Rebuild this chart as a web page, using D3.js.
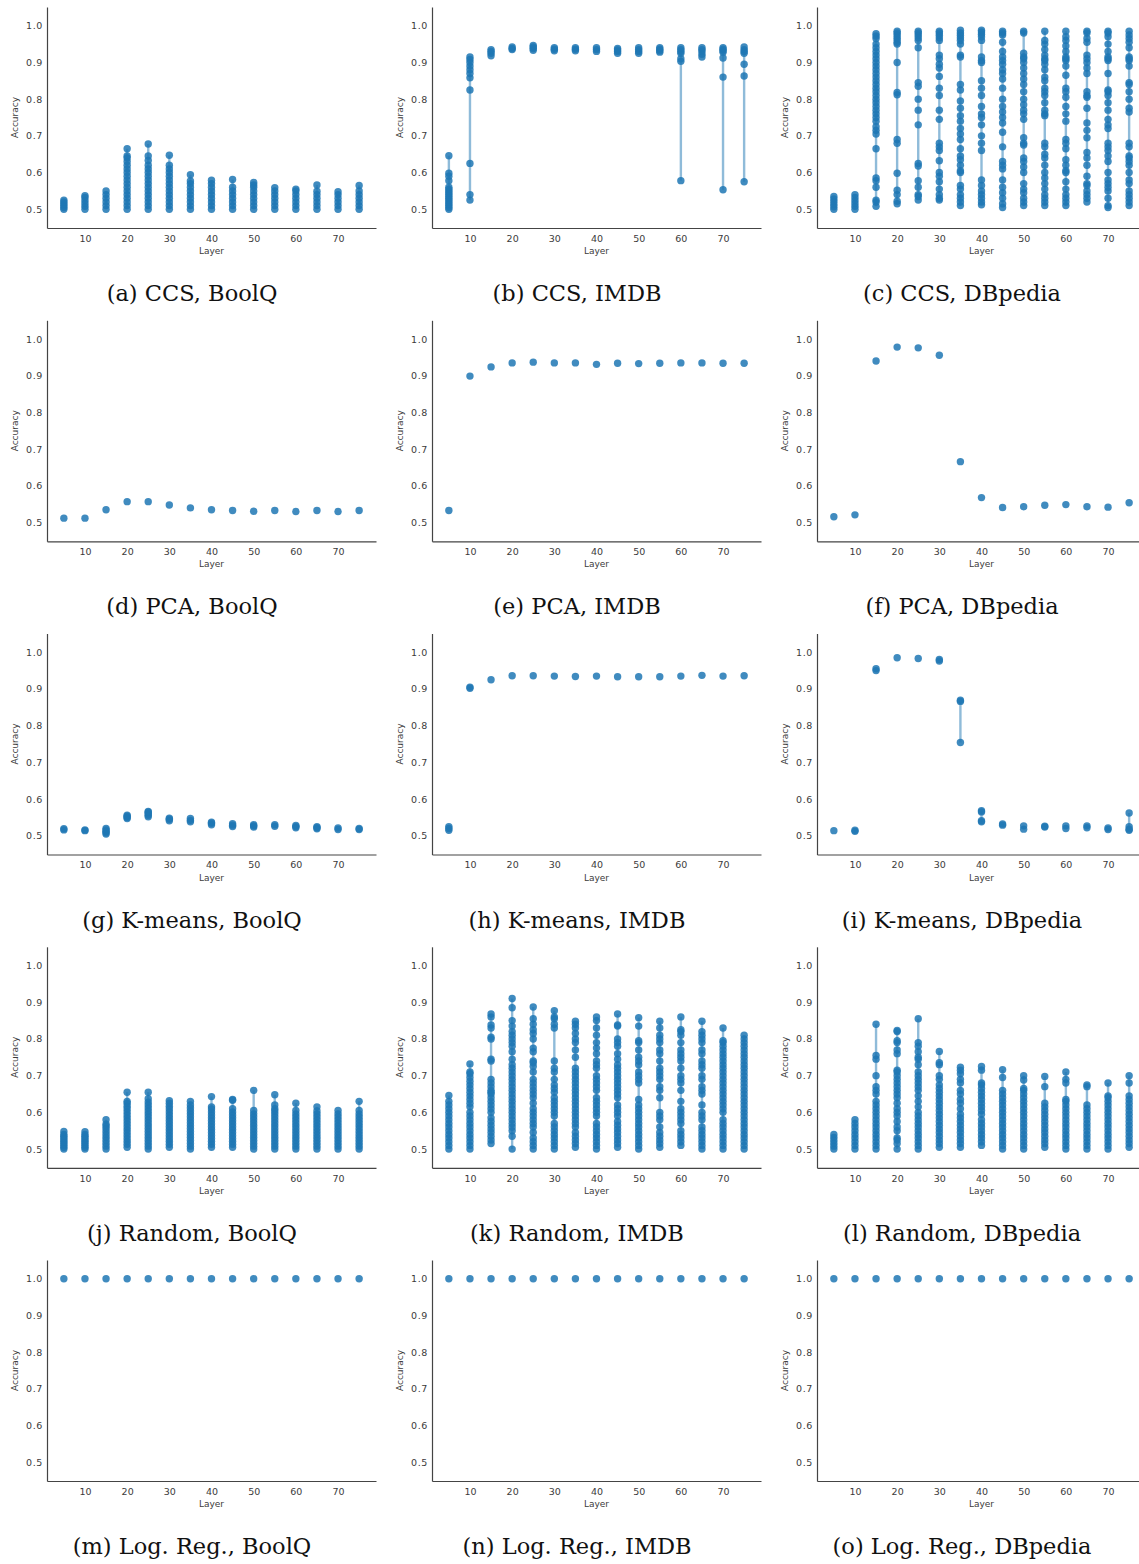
<!DOCTYPE html>
<html><head><meta charset="utf-8">
<script src="https://cdn.jsdelivr.net/npm/d3@7"></script>
<style>
html,body{margin:0;padding:0;background:#fff;}
svg{display:block;}
</style>
</head><body>
<svg id="chart" width="1139" height="1564"></svg>
<script>
// ---------------- DATA ----------------
const layers = [5,10,15,20,25,30,35,40,45,50,55,60,65,70,75];
const xTicks = [10,20,30,40,50,60,70];
const yTicks = [0.5,0.6,0.7,0.8,0.9,1.0];
const xLabel = "Layer";
const yLabel = "Accuracy";
const captions = [
  "(a) CCS, BoolQ","(b) CCS, IMDB","(c) CCS, DBpedia",
  "(d) PCA, BoolQ","(e) PCA, IMDB","(f) PCA, DBpedia",
  "(g) K-means, BoolQ","(h) K-means, IMDB","(i) K-means, DBpedia",
  "(j) Random, BoolQ","(k) Random, IMDB","(l) Random, DBpedia",
  "(m) Log. Reg., BoolQ","(n) Log. Reg., IMDB","(o) Log. Reg., DBpedia"
];

// accuracy values per layer (one array per layer)
const ccsBoolq = [
  [0.500,0.505,0.510,0.515,0.520,0.525],
  [0.500,0.508,0.516,0.524,0.532,0.537],
  [0.500,0.510,0.520,0.530,0.540,0.550],
  [0.500,0.510,0.520,0.530,0.540,0.550,0.560,0.570,0.580,0.590,0.600,0.610,0.620,0.630,0.640,0.645,0.665],
  [0.500,0.510,0.520,0.530,0.540,0.550,0.560,0.570,0.580,0.590,0.600,0.610,0.620,0.633,0.645,0.678],
  [0.500,0.510,0.520,0.530,0.540,0.550,0.560,0.570,0.580,0.590,0.600,0.610,0.620,0.647],
  [0.500,0.510,0.520,0.530,0.540,0.550,0.560,0.570,0.577,0.594],
  [0.500,0.510,0.520,0.530,0.540,0.550,0.560,0.570,0.579],
  [0.500,0.510,0.520,0.530,0.540,0.550,0.560,0.581],
  [0.500,0.510,0.520,0.530,0.540,0.550,0.560,0.566,0.573],
  [0.500,0.510,0.520,0.530,0.540,0.550,0.559],
  [0.500,0.510,0.520,0.530,0.540,0.550,0.555],
  [0.500,0.510,0.520,0.530,0.540,0.549,0.566],
  [0.500,0.510,0.520,0.530,0.540,0.548],
  [0.500,0.510,0.520,0.530,0.540,0.550,0.565]
];
const ccsImdb = [
  [0.500,0.505,0.510,0.515,0.520,0.525,0.530,0.535,0.540,0.545,0.550,0.555,0.560,0.578,0.590,0.598,0.646],
  [0.525,0.540,0.625,0.825,0.858,0.870,0.880,0.890,0.900,0.908,0.915],
  [0.918,0.925,0.930,0.935],
  [0.935,0.938,0.942],
  [0.933,0.938,0.942,0.946],
  [0.932,0.936,0.940],
  [0.932,0.936,0.940],
  [0.930,0.935,0.940],
  [0.925,0.930,0.934,0.938],
  [0.925,0.930,0.935,0.940],
  [0.928,0.932,0.936,0.940],
  [0.578,0.903,0.910,0.925,0.930,0.935,0.940],
  [0.915,0.922,0.930,0.935,0.940],
  [0.553,0.860,0.912,0.928,0.932,0.936,0.940],
  [0.575,0.863,0.895,0.925,0.930,0.935,0.942]
];
const ccsDbpedia = [
  [0.500,0.507,0.514,0.521,0.528,0.535],
  [0.500,0.508,0.516,0.524,0.532,0.540],
  [0.508,0.520,0.525,0.560,0.578,0.585,0.665,0.705,0.715,0.725,0.740,0.750,0.760,0.770,0.780,0.790,0.800,0.810,0.820,0.830,0.840,0.850,0.860,0.870,0.880,0.890,0.900,0.910,0.920,0.930,0.940,0.950,0.965,0.972,0.978],
  [0.515,0.522,0.540,0.552,0.598,0.680,0.690,0.812,0.818,0.900,0.950,0.955,0.962,0.968,0.975,0.980,0.985],
  [0.525,0.535,0.540,0.560,0.578,0.618,0.625,0.730,0.770,0.800,0.835,0.845,0.940,0.960,0.967,0.974,0.980,0.985],
  [0.525,0.530,0.540,0.555,0.575,0.590,0.600,0.632,0.660,0.670,0.680,0.745,0.770,0.810,0.830,0.862,0.885,0.895,0.910,0.920,0.960,0.967,0.974,0.980,0.985],
  [0.510,0.520,0.530,0.540,0.555,0.565,0.600,0.605,0.620,0.635,0.645,0.665,0.690,0.705,0.720,0.740,0.755,0.775,0.795,0.825,0.840,0.915,0.920,0.950,0.960,0.967,0.974,0.980,0.988],
  [0.512,0.520,0.530,0.540,0.550,0.565,0.580,0.660,0.680,0.700,0.730,0.750,0.760,0.780,0.810,0.830,0.850,0.900,0.905,0.915,0.960,0.970,0.977,0.983,0.988],
  [0.505,0.515,0.530,0.545,0.560,0.580,0.610,0.620,0.630,0.670,0.710,0.735,0.750,0.765,0.780,0.800,0.830,0.855,0.870,0.880,0.895,0.905,0.915,0.930,0.955,0.975,0.980,0.985],
  [0.510,0.520,0.530,0.545,0.555,0.570,0.600,0.615,0.630,0.640,0.675,0.680,0.695,0.745,0.760,0.770,0.785,0.800,0.820,0.840,0.855,0.870,0.885,0.900,0.910,0.915,0.925,0.980,0.985],
  [0.510,0.520,0.530,0.540,0.555,0.570,0.585,0.600,0.620,0.640,0.650,0.670,0.680,0.755,0.760,0.770,0.790,0.810,0.820,0.830,0.850,0.860,0.880,0.895,0.905,0.910,0.920,0.935,0.950,0.960,0.985],
  [0.510,0.520,0.530,0.540,0.555,0.575,0.600,0.605,0.620,0.635,0.665,0.680,0.690,0.740,0.760,0.780,0.805,0.820,0.830,0.865,0.890,0.905,0.910,0.915,0.930,0.945,0.960,0.970,0.985],
  [0.520,0.530,0.540,0.550,0.565,0.570,0.590,0.620,0.640,0.655,0.695,0.715,0.735,0.775,0.805,0.810,0.820,0.870,0.885,0.900,0.910,0.920,0.955,0.965,0.980,0.985],
  [0.505,0.510,0.530,0.550,0.560,0.570,0.580,0.600,0.630,0.645,0.660,0.670,0.680,0.720,0.730,0.745,0.770,0.790,0.810,0.820,0.825,0.870,0.905,0.910,0.915,0.930,0.950,0.970,0.980,0.985],
  [0.510,0.520,0.530,0.540,0.550,0.570,0.580,0.600,0.620,0.630,0.640,0.645,0.670,0.680,0.765,0.775,0.800,0.820,0.840,0.845,0.890,0.905,0.910,0.915,0.940,0.955,0.965,0.975,0.985]
];
const pcaBoolq = [[0.512],[0.512],[0.535],[0.557],[0.557],[0.548],[0.540],[0.535],[0.533],[0.531],[0.533],[0.530],[0.533],[0.530],[0.533]];
const pcaImdb = [[0.533],[0.899],[0.924],[0.935],[0.937],[0.935],[0.935],[0.931],[0.934],[0.933],[0.934],[0.935],[0.935],[0.934],[0.934]];
const pcaDbpedia = [[0.516],[0.521],[0.940],[0.978],[0.976],[0.956],[0.666],[0.568],[0.541],[0.543],[0.547],[0.549],[0.543],[0.542],[0.554]];
const kmeansBoolq = [
  [0.516,0.519],[0.514,0.516],[0.505,0.508,0.512,0.516,0.520],[0.547,0.550,0.553,0.556],
  [0.552,0.556,0.560,0.564,0.566],[0.541,0.545,0.548],[0.538,0.542,0.547],[0.530,0.534,0.537],
  [0.525,0.529,0.533],[0.524,0.527,0.530],[0.526,0.530],[0.522,0.525,0.528],[0.519,0.522,0.525],
  [0.517,0.521],[0.517,0.520]
];
const kmeansImdb = [
  [0.515,0.520,0.525],[0.902,0.905],[0.925],[0.936],[0.936],[0.935],[0.934],[0.935],
  [0.933],[0.933],[0.933],[0.935],[0.937],[0.935],[0.936]
];
const kmeansDbpedia = [
  [0.514],[0.512,0.515],[0.950,0.955],[0.985],[0.983],[0.976,0.980],[0.754,0.866,0.869],
  [0.538,0.541,0.565,0.568],[0.529,0.532],[0.518,0.527],[0.524,0.526],[0.520,0.527],
  [0.522,0.527],[0.517,0.521],[0.515,0.518,0.525,0.562]
];
const randomBoolq = [
  [0.500,0.505,0.510,0.515,0.520,0.525,0.530,0.535,0.540,0.548],
  [0.500,0.505,0.510,0.515,0.520,0.525,0.530,0.535,0.540,0.547],
  [0.500,0.508,0.516,0.524,0.532,0.540,0.548,0.556,0.563,0.568,0.580],
  [0.505,0.513,0.521,0.529,0.537,0.545,0.553,0.561,0.569,0.577,0.585,0.593,0.601,0.609,0.617,0.625,0.630,0.655],
  [0.500,0.508,0.516,0.524,0.532,0.540,0.548,0.556,0.564,0.572,0.580,0.588,0.596,0.604,0.612,0.620,0.628,0.637,0.655],
  [0.505,0.513,0.521,0.529,0.537,0.545,0.553,0.561,0.569,0.577,0.585,0.593,0.601,0.609,0.617,0.625,0.632],
  [0.500,0.508,0.516,0.524,0.532,0.540,0.548,0.556,0.564,0.572,0.580,0.588,0.596,0.604,0.612,0.620,0.630],
  [0.505,0.513,0.521,0.529,0.537,0.545,0.553,0.561,0.569,0.577,0.585,0.593,0.601,0.609,0.615,0.643],
  [0.505,0.513,0.521,0.529,0.537,0.545,0.553,0.561,0.569,0.577,0.585,0.593,0.601,0.610,0.633,0.635],
  [0.500,0.508,0.516,0.524,0.532,0.540,0.548,0.556,0.564,0.572,0.580,0.588,0.596,0.605,0.660],
  [0.500,0.508,0.516,0.524,0.532,0.540,0.548,0.556,0.564,0.572,0.580,0.588,0.596,0.604,0.610,0.620,0.648],
  [0.500,0.508,0.516,0.524,0.532,0.540,0.548,0.556,0.564,0.572,0.580,0.588,0.596,0.605,0.625],
  [0.500,0.508,0.516,0.524,0.532,0.540,0.548,0.556,0.564,0.572,0.580,0.588,0.596,0.604,0.615],
  [0.500,0.508,0.516,0.524,0.532,0.540,0.548,0.556,0.564,0.572,0.580,0.588,0.596,0.605],
  [0.500,0.508,0.516,0.524,0.532,0.540,0.548,0.556,0.564,0.572,0.580,0.588,0.596,0.605,0.630]
];
const randomImdb = [
  [0.500,0.510,0.520,0.530,0.540,0.550,0.560,0.570,0.580,0.590,0.600,0.610,0.620,0.630,0.646],
  [0.500,0.510,0.520,0.530,0.540,0.550,0.560,0.570,0.580,0.590,0.600,0.615,0.625,0.635,0.645,0.655,0.665,0.675,0.685,0.695,0.705,0.710,0.732],
  [0.515,0.525,0.535,0.545,0.555,0.565,0.575,0.585,0.600,0.610,0.620,0.630,0.640,0.650,0.655,0.660,0.670,0.680,0.690,0.740,0.745,0.800,0.805,0.830,0.838,0.860,0.868],
  [0.500,0.535,0.550,0.560,0.570,0.580,0.590,0.600,0.610,0.620,0.630,0.640,0.650,0.660,0.670,0.680,0.690,0.700,0.710,0.720,0.730,0.745,0.765,0.780,0.790,0.800,0.810,0.820,0.835,0.850,0.885,0.910],
  [0.500,0.510,0.520,0.530,0.545,0.560,0.570,0.580,0.590,0.600,0.610,0.625,0.640,0.650,0.660,0.670,0.680,0.690,0.710,0.725,0.735,0.740,0.765,0.775,0.800,0.815,0.825,0.840,0.855,0.887],
  [0.500,0.510,0.520,0.530,0.540,0.550,0.560,0.570,0.590,0.600,0.610,0.620,0.630,0.640,0.655,0.665,0.675,0.690,0.710,0.720,0.740,0.830,0.840,0.855,0.860,0.877],
  [0.505,0.515,0.525,0.535,0.545,0.560,0.570,0.580,0.590,0.600,0.610,0.620,0.630,0.640,0.650,0.660,0.670,0.680,0.690,0.700,0.710,0.720,0.750,0.770,0.790,0.800,0.815,0.830,0.840,0.848],
  [0.500,0.510,0.520,0.530,0.540,0.550,0.560,0.570,0.590,0.600,0.610,0.620,0.630,0.640,0.660,0.670,0.680,0.690,0.700,0.720,0.730,0.740,0.760,0.775,0.790,0.810,0.830,0.850,0.860],
  [0.505,0.515,0.525,0.535,0.545,0.555,0.565,0.575,0.590,0.600,0.610,0.620,0.640,0.650,0.660,0.670,0.680,0.690,0.700,0.710,0.720,0.730,0.745,0.760,0.780,0.790,0.800,0.835,0.838,0.868],
  [0.500,0.510,0.520,0.530,0.540,0.550,0.560,0.570,0.580,0.590,0.600,0.610,0.620,0.635,0.680,0.690,0.700,0.710,0.730,0.740,0.750,0.770,0.790,0.795,0.835,0.858],
  [0.505,0.515,0.525,0.535,0.545,0.560,0.580,0.590,0.600,0.640,0.660,0.670,0.690,0.700,0.710,0.720,0.740,0.760,0.770,0.790,0.800,0.810,0.830,0.848],
  [0.510,0.520,0.530,0.540,0.550,0.570,0.580,0.590,0.600,0.610,0.630,0.660,0.680,0.690,0.700,0.720,0.740,0.750,0.760,0.770,0.790,0.810,0.820,0.825,0.860],
  [0.500,0.510,0.520,0.530,0.540,0.550,0.560,0.580,0.590,0.600,0.620,0.650,0.660,0.670,0.690,0.700,0.720,0.730,0.740,0.760,0.770,0.790,0.800,0.810,0.820,0.848],
  [0.500,0.510,0.520,0.530,0.540,0.550,0.560,0.570,0.580,0.600,0.610,0.620,0.630,0.640,0.650,0.660,0.670,0.680,0.690,0.700,0.710,0.720,0.730,0.740,0.750,0.760,0.770,0.780,0.790,0.795,0.830],
  [0.500,0.510,0.520,0.530,0.540,0.550,0.560,0.570,0.580,0.590,0.600,0.610,0.620,0.630,0.640,0.650,0.660,0.670,0.680,0.690,0.700,0.710,0.720,0.730,0.740,0.750,0.760,0.770,0.780,0.790,0.800,0.810]
];
const randomDbpedia = [
  [0.500,0.508,0.516,0.524,0.532,0.540],
  [0.500,0.510,0.520,0.530,0.540,0.550,0.560,0.570,0.580],
  [0.500,0.510,0.520,0.530,0.540,0.550,0.560,0.570,0.580,0.590,0.600,0.610,0.620,0.630,0.650,0.660,0.670,0.700,0.745,0.755,0.840],
  [0.500,0.515,0.525,0.530,0.550,0.560,0.575,0.590,0.600,0.610,0.625,0.640,0.650,0.660,0.670,0.680,0.690,0.700,0.710,0.715,0.760,0.770,0.790,0.795,0.820,0.823],
  [0.500,0.510,0.520,0.530,0.540,0.550,0.560,0.570,0.580,0.590,0.600,0.615,0.630,0.645,0.660,0.670,0.680,0.690,0.700,0.710,0.730,0.745,0.750,0.765,0.780,0.790,0.855],
  [0.505,0.515,0.525,0.535,0.545,0.555,0.565,0.575,0.585,0.595,0.605,0.615,0.625,0.635,0.645,0.655,0.665,0.675,0.690,0.700,0.730,0.735,0.766],
  [0.505,0.515,0.525,0.535,0.545,0.555,0.565,0.575,0.585,0.595,0.610,0.625,0.635,0.650,0.660,0.680,0.690,0.705,0.715,0.723],
  [0.510,0.520,0.530,0.540,0.550,0.560,0.570,0.580,0.595,0.605,0.615,0.625,0.635,0.645,0.655,0.665,0.675,0.680,0.715,0.725],
  [0.500,0.510,0.520,0.530,0.540,0.550,0.560,0.570,0.580,0.590,0.600,0.610,0.620,0.630,0.640,0.650,0.660,0.695,0.716],
  [0.500,0.510,0.520,0.530,0.540,0.550,0.560,0.570,0.580,0.590,0.600,0.610,0.620,0.630,0.640,0.650,0.660,0.665,0.688,0.700],
  [0.505,0.515,0.525,0.535,0.545,0.555,0.565,0.575,0.585,0.595,0.605,0.615,0.625,0.670,0.698],
  [0.500,0.510,0.520,0.530,0.540,0.550,0.560,0.570,0.580,0.590,0.600,0.610,0.620,0.630,0.635,0.680,0.690,0.710],
  [0.500,0.510,0.520,0.530,0.540,0.550,0.560,0.570,0.580,0.590,0.600,0.610,0.620,0.670,0.675],
  [0.500,0.510,0.520,0.530,0.540,0.550,0.560,0.570,0.580,0.590,0.600,0.610,0.620,0.630,0.640,0.645,0.680],
  [0.505,0.515,0.525,0.535,0.545,0.555,0.565,0.575,0.585,0.595,0.605,0.615,0.625,0.635,0.645,0.680,0.700]
];
const logregBoolq = [[1.0],[1.0],[1.0],[1.0],[1.0],[1.0],[1.0],[1.0],[1.0],[1.0],[1.0],[1.0],[1.0],[1.0],[1.0]];
const logregImdb = [[1.0],[1.0],[1.0],[1.0],[1.0],[1.0],[1.0],[1.0],[1.0],[1.0],[1.0],[1.0],[1.0],[1.0],[1.0]];
const logregDbpedia = [[1.0],[1.0],[1.0],[1.0],[1.0],[1.0],[1.0],[1.0],[1.0],[1.0],[1.0],[1.0],[1.0],[1.0],[1.0]];

const panelData = [
  ccsBoolq, ccsImdb, ccsDbpedia,
  pcaBoolq, pcaImdb, pcaDbpedia,
  kmeansBoolq, kmeansImdb, kmeansDbpedia,
  randomBoolq, randomImdb, randomDbpedia,
  logregBoolq, logregImdb, logregDbpedia
];

// ---------------- LAYOUT ----------------
const colLeft = [47, 432, 817];
const captionCenter = [192, 577, 962];
const rowTop = [7, 320.3, 633.5, 946.8, 1260];
const W = 329, H = 221;
const blue = "#1f77b4";
const axisColor = "#444";
const textColor = "#3b3b3b";

const svg = d3.select("#chart");
svg.append("rect").attr("width",1139).attr("height",1564).attr("fill","#fff");

const x = d3.scaleLinear().domain([1, 79]).range([0, W]);
const y = d3.scaleLinear().domain([0.449, 1.051]).range([H, 0]);

panelData.forEach((data, i) => {
  const col = i % 3, row = Math.floor(i / 3);
  const g = svg.append("g").attr("transform", `translate(${colLeft[col]},${rowTop[row]})`);

  // x axis
  const xa = g.append("g").attr("transform", `translate(0,${H})`)
    .call(d3.axisBottom(x).tickValues(xTicks).tickSize(0).tickPadding(7).tickFormat(d3.format("d")));
  xa.select(".domain").attr("stroke", axisColor).attr("stroke-width", 1.2);
  xa.selectAll("text").attr("fill", textColor).style("font-family","'DejaVu Sans', sans-serif").style("font-size","9.5px");

  // y axis
  const ya = g.append("g")
    .call(d3.axisLeft(y).tickValues(yTicks).tickSize(0).tickPadding(4).tickFormat(d3.format(".1f")));
  ya.select(".domain").attr("stroke", axisColor).attr("stroke-width", 1.2);
  ya.selectAll("text").attr("fill", textColor).style("font-family","'DejaVu Sans', sans-serif").style("font-size","9.5px").style("letter-spacing","0.6px");

  // axis labels
  g.append("text").attr("x", W/2).attr("y", H + 26).attr("text-anchor","middle")
    .attr("fill", textColor).style("font-family","'DejaVu Sans', sans-serif").style("font-size","9px").text(xLabel);
  g.append("text").attr("transform", `translate(-31.5,${H/2}) rotate(-90)`).attr("text-anchor","middle")
    .attr("dominant-baseline","middle")
    .attr("fill", textColor).style("font-family","'DejaVu Sans', sans-serif").style("font-size","9px").text(yLabel);

  // range lines
  const rows = data.map((vals, j) => ({layer: layers[j], vals}));
  g.append("g").selectAll("line").data(rows.filter(r => d3.min(r.vals) !== d3.max(r.vals))).join("line")
    .attr("x1", r => x(r.layer)).attr("x2", r => x(r.layer))
    .attr("y1", r => y(d3.min(r.vals))).attr("y2", r => y(d3.max(r.vals)))
    .attr("stroke", blue).attr("stroke-opacity", 0.5).attr("stroke-width", 2.4);

  // points
  const pts = rows.flatMap(r => r.vals.map(v => ({layer: r.layer, v})));
  g.append("g").selectAll("circle").data(pts).join("circle")
    .attr("cx", d => x(d.layer)).attr("cy", d => y(d.v)).attr("r", 3.7)
    .attr("fill", blue).attr("fill-opacity", 0.85);

  // caption
  svg.append("text").attr("x", captionCenter[col]).attr("y", rowTop[row] + 294)
    .attr("text-anchor","middle").attr("fill","#111")
    .style("font-family","'DejaVu Serif', serif").style("font-size","22.5px")
    .text(captions[i]);
});
</script>
</body></html>
